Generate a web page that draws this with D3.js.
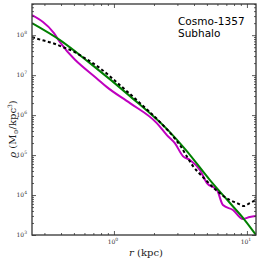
<!DOCTYPE html>
<html>
<head>
<meta charset="utf-8">
<script src="https://cdn.jsdelivr.net/npm/d3@7"></script>
<style>
body { margin: 0; background: #fff; }
svg { display: block; }
</style>
</head>
<body>
<svg id="svg" width="261" height="262"></svg>
<script>
// radius in kpc, log10 density values
const rGreen = [0.242, 0.393, 0.66, 1.32, 2.55, 3.48, 5.27, 7.45, 9.5, 11.7]
const rhoGreen = [8.30, 7.875, 7.30, 6.475, 5.625, 5.125, 4.375, 3.80, 3.40, 3.0]

const rMagenta = [0.242, 0.354, 0.393, 0.785, 0.886, 1.32, 2.10, 2.50, 2.87, 3.30, 3.73, 4.43, 5.0, 5.95, 6.6, 7.85, 9.33, 10.5, 11.7]
const rhoMagenta = [8.50, 8.05, 7.825, 6.85, 6.70, 6.30, 5.80, 5.50, 5.30, 4.975, 4.875, 4.625, 4.30, 4.125, 3.75, 3.625, 3.40, 3.45, 3.475]

const rDash = [0.242, 0.288, 0.348, 0.414, 0.492, 0.555, 0.785, 1.11, 1.57, 2.22, 3.13, 3.93, 4.83, 5.74, 7.45, 8.4, 9.5, 10.5, 11.7]
const rhoDash = [7.95, 7.875, 7.80, 7.70, 7.60, 7.50, 7.175, 6.75, 6.30, 5.825, 5.25, 4.725, 4.40, 4.15, 3.875, 3.80, 3.725, 3.80, 3.875]

const yTickExp = [3, 4, 5, 6, 7, 8]
const xTickExp = [0, 1]

const margin = { left: 32, right: 5, top: 4, bottom: 27 }
const W = 261, H = 262
const svg = d3.select('#svg')

const x = d3.scaleLog().domain([0.242, 11.7]).range([margin.left, W - margin.right])
const y = d3.scaleLog().domain([1e3, Math.pow(10, 8.78)]).range([H - margin.bottom, margin.top])

const toPts = (rs, ls) => rs.map((r, i) => ({ r: r, v: Math.pow(10, ls[i]) }))

const line = d3.line()
    .x(d => x(d.r))
    .y(d => y(d.v))
    .curve(d3.curveMonotoneX)

svg.append('clipPath').attr('id', 'clip')
    .append('rect')
    .attr('x', margin.left).attr('y', margin.top)
    .attr('width', W - margin.left - margin.right)
    .attr('height', H - margin.top - margin.bottom)

const g = svg.append('g').attr('clip-path', 'url(#clip)')

g.append('path').datum(toPts(rMagenta, rhoMagenta))
    .attr('d', line).attr('fill', 'none')
    .attr('stroke', '#bf00bf').attr('stroke-width', 2)
g.append('path').datum(toPts(rGreen, rhoGreen))
    .attr('d', line).attr('fill', 'none')
    .attr('stroke', '#008000').attr('stroke-width', 2)
g.append('path').datum(toPts(rDash, rhoDash))
    .attr('d', line).attr('fill', 'none')
    .attr('stroke', '#000').attr('stroke-width', 2)
    .attr('stroke-dasharray', '3,2.5')

// ticks (inside, all four sides)
const yMinor = []
for (let e = 3; e < 9; e += 1) {
    for (let m = 2; m < 10; m += 1) {
        const v = m * Math.pow(10, e)
        if (v <= y.domain()[1]) yMinor.push(v)
    }
}
const xMinor = []
for (let e = -1; e < 2; e += 1) {
    for (let m = 2; m < 10; m += 1) {
        const v = m * Math.pow(10, e)
        if (v >= x.domain()[0] && v <= x.domain()[1]) xMinor.push(v)
    }
}
const yMajor = yTickExp.map(e => Math.pow(10, e))
const xMajor = xTickExp.map(e => Math.pow(10, e))

function addAxis(axis, vals, size, tr) {
    svg.append('g')
        .attr('transform', tr)
        .call(axis.tickValues(vals).tickSize(-size).tickFormat(''))
        .call(s => s.select('.domain').remove())
        .selectAll('line').attr('stroke', '#333').attr('stroke-width', 0.8)
}
addAxis(d3.axisLeft(y), yMajor, 4, `translate(${margin.left},0)`)
addAxis(d3.axisLeft(y), yMinor, 2, `translate(${margin.left},0)`)
addAxis(d3.axisRight(y), yMajor, 4, `translate(${W - margin.right},0)`)
addAxis(d3.axisRight(y), yMinor, 2, `translate(${W - margin.right},0)`)
addAxis(d3.axisBottom(x), xMajor, 4, `translate(0,${H - margin.bottom})`)
addAxis(d3.axisBottom(x), xMinor, 2, `translate(0,${H - margin.bottom})`)
addAxis(d3.axisTop(x), xMajor, 4, `translate(0,${margin.top})`)
addAxis(d3.axisTop(x), xMinor, 2, `translate(0,${margin.top})`)

// frame
svg.append('rect')
    .attr('x', margin.left).attr('y', margin.top)
    .attr('width', W - margin.left - margin.right)
    .attr('height', H - margin.top - margin.bottom)
    .attr('fill', 'none').attr('stroke', '#333').attr('stroke-width', 1.3)

// tick labels
const yl = svg.append('g')
    .attr('font-family', 'DejaVu Serif, serif').attr('font-size', 6).attr('fill', '#333')
yTickExp.forEach(e => {
    const t = yl.append('text')
        .attr('x', 27).attr('y', y(Math.pow(10, e)) + 2)
        .attr('text-anchor', 'end')
    t.append('tspan').text('10')
    t.append('tspan').attr('dy', -3).attr('font-size', 4.5).text(e)
})
xTickExp.forEach(e => {
    const t = yl.append('text')
        .attr('x', x(Math.pow(10, e)) - 1).attr('y', H - margin.bottom + 9)
        .attr('text-anchor', 'middle')
    t.append('tspan').text('10')
    t.append('tspan').attr('dy', -3).attr('font-size', 4.5).text(e)
})

// axis labels
svg.append('text')
    .attr('x', 146).attr('y', 256)
    .attr('text-anchor', 'middle')
    .attr('font-family', 'DejaVu Serif, serif').attr('font-size', 10)
    .attr('fill', '#222')
    .html('<tspan font-style="italic">r</tspan> (kpc)')

const ylab = svg.append('text')
    .attr('transform', 'translate(16,129) rotate(-90)')
    .attr('text-anchor', 'middle')
    .attr('font-family', 'DejaVu Serif, serif').attr('font-size', 10)
    .attr('fill', '#222')
ylab.append('tspan').attr('font-style', 'italic').text('ρ')
ylab.append('tspan').text(' (M')
ylab.append('tspan').attr('font-size', 6).attr('dy', 2).text('⊙')
ylab.append('tspan').attr('dy', -2).text('/kpc')
ylab.append('tspan').attr('font-size', 6).attr('dy', -4).text('3')
ylab.append('tspan').attr('dy', 4).text(')')

// annotation
const ann = svg.append('g')
    .attr('font-family', 'DejaVu Sans, sans-serif').attr('font-size', 10.5).attr('fill', '#000')
ann.append('text').attr('x', 178).attr('y', 25).text('Cosmo-1357')
ann.append('text').attr('x', 178).attr('y', 37).text('Subhalo')
</script>
</body>
</html>
